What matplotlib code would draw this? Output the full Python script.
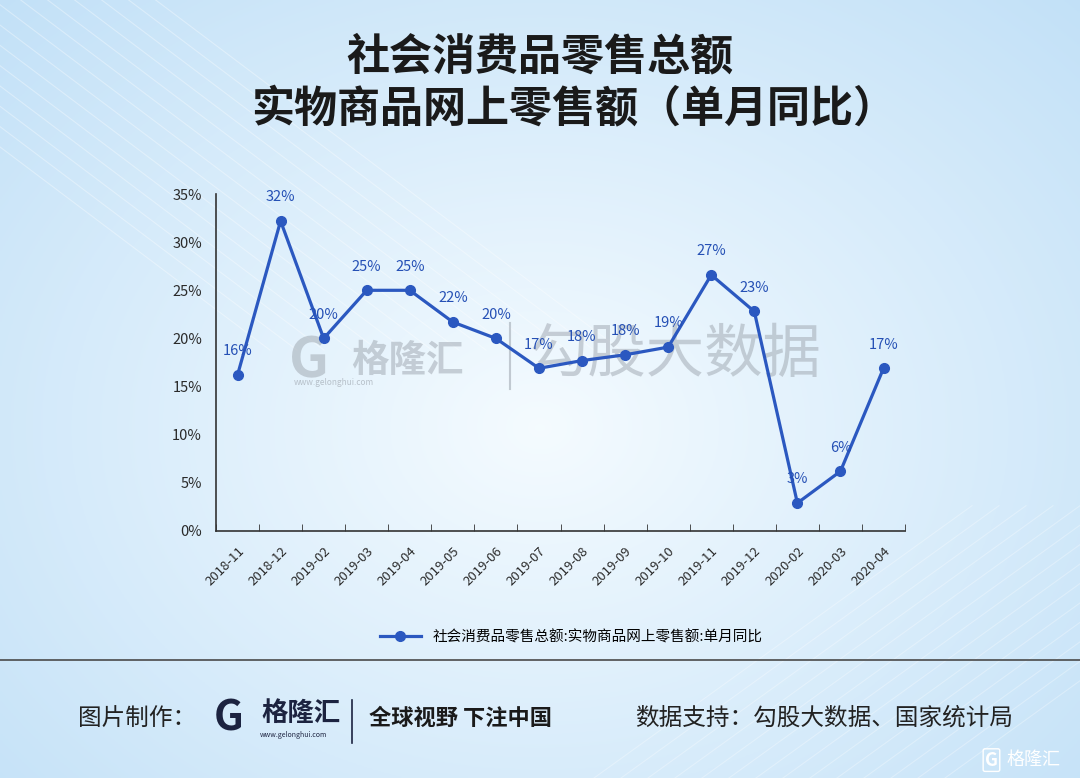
import numpy as np
import matplotlib
matplotlib.use("Agg")
import matplotlib.pyplot as plt
from matplotlib.lines import Line2D

plt.rcParams['font.family'] = ['Noto Sans CJK SC', 'DejaVu Sans']

# data
months = ["2018-11", "2018-12", "2019-02", "2019-03", "2019-04", "2019-05",
          "2019-06", "2019-07", "2019-08", "2019-09", "2019-10", "2019-11",
          "2019-12", "2020-02", "2020-03", "2020-04"]
values = [16.2, 32.2, 20.0, 25.0, 25.0, 21.7, 20.0, 16.9, 17.7, 18.3,
          19.1, 26.6, 22.8, 2.9, 6.2, 16.9]
labels = ["16%", "32%", "20%", "25%", "25%", "22%", "20%", "17%", "18%",
          "18%", "19%", "27%", "23%", "3%", "6%", "17%"]
series_name = "社会消费品零售总额:实物商品网上零售额:单月同比"

blue = "#2b58c0"
label_blue = "#2550b5"

fig = plt.figure(figsize=(10.8, 7.78), dpi=100)

# background gradient
bg = fig.add_axes([0, 0, 1, 1], zorder=-10)
yy, xx = np.mgrid[0:1:300j, 0:1:400j]
r = np.sqrt(((xx - 0.5) / 0.72) ** 2 + ((yy - 0.45) / 0.78) ** 2)
c0 = np.array([0.96, 0.985, 1.0])
c1 = np.array([0.76, 0.88, 0.97])
t = np.clip(r, 0, 1)[..., None]
img = c0 * (1 - t) + c1 * t
bg.imshow(img, extent=[0, 1, 0, 1], aspect="auto", origin="lower")
# faint diagonal streaks
for k in range(14):
    x0 = -0.2 + k * 0.025
    bg.plot([x0, x0 + 0.45], [1.02, 0.55], color="white", lw=0.8, alpha=0.35)
    bg.plot([x0 + 0.7, x0 + 1.1], [-0.05, 0.35], color="white", lw=0.8, alpha=0.3)

# watermark (drawn on the background axes so it sits under the line)
wm = "#a3abb4"
bg.text(0.268, 0.535, "G", fontsize=40, fontweight="bold", color=wm,
        alpha=0.55, ha="left", va="center")
bg.text(0.325, 0.537, "格隆汇", fontsize=27, fontweight="bold", color=wm,
        alpha=0.55, ha="left", va="center")
bg.text(0.272, 0.508, "www.gelonghui.com", fontsize=6, color=wm,
        alpha=0.7, ha="left", va="center")
bg.plot([0.472, 0.472], [0.5, 0.585], color=wm, alpha=0.6, lw=1.5)
bg.text(0.49, 0.543, "勾股大数据", fontsize=42, color=wm, alpha=0.55,
        ha="left", va="center")
bg.set_xlim(0, 1)
bg.set_ylim(0, 1)
bg.axis("off")

# titles
fig.text(0.5, 0.927, "社会消费品零售总额", ha="center", va="center",
         fontsize=31, fontweight="bold", color="#1a1a1a")
fig.text(0.531, 0.859, "实物商品网上零售额（单月同比）", ha="center", va="center",
         fontsize=31, fontweight="bold", color="#1a1a1a")

# main chart
ax = fig.add_axes([0.2, 0.3175, 0.638, 0.4331])
ax.set_facecolor("none")
x = np.arange(len(months))
ax.plot(x, values, color=blue, lw=2.3, marker="o", markersize=7,
        markerfacecolor=blue, markeredgecolor=blue, label=series_name)
for xi, v, lab in zip(x, values, labels):
    ax.annotate(lab, (xi, v), xytext=(0, 17), textcoords="offset points",
                ha="center", va="center", fontsize=10.5, fontweight="medium",
                color=label_blue)

ax.set_xlim(-0.5, len(months) - 0.5)
ax.set_ylim(0, 35)
ax.set_yticks(np.arange(0, 36, 5))
ax.set_yticklabels([f"{v}%" for v in range(0, 36, 5)], fontweight="medium")
ax.set_xticks(x)
ax.set_xticklabels(months, rotation=45, ha="right", rotation_mode="anchor",
                   fontweight="medium")
ax.set_xticks(np.arange(-0.5, len(months)), minor=True)
ax.tick_params(axis="x", which="major", length=0, pad=10, labelsize=9.5,
               labelcolor="#2a2a2a")
ax.tick_params(axis="x", which="minor", length=5, direction="in",
               color="#333333")
ax.tick_params(axis="y", length=0, pad=10, labelsize=10.5, labelcolor="#2a2a2a")
for s in ["top", "right"]:
    ax.spines[s].set_visible(False)
for s in ["left", "bottom"]:
    ax.spines[s].set_color("#333333")
    ax.spines[s].set_linewidth(1.2)

ax.legend(loc="center", bbox_to_anchor=(0.529, 0.181),
          bbox_transform=fig.transFigure, frameon=False, fontsize=10.5,
          handlelength=2.8)

# separator
fig.add_artist(Line2D([0, 1], [0.152, 0.152], color="#4a4a4a", lw=1.2))

# footer
fig.text(0.072, 0.077, "图片制作：", fontsize=17, color="#222222",
         ha="left", va="center")
fig.text(0.198, 0.077, "G", fontsize=30, fontweight="bold", color="#1c2340",
         ha="left", va="center")
fig.text(0.242, 0.083, "格隆汇", fontsize=19, fontweight="bold", color="#1c2340",
         ha="left", va="center")
fig.text(0.241, 0.055, "www.gelonghui.com", fontsize=5, color="#1c2340",
         ha="left", va="center")
fig.add_artist(Line2D([0.326, 0.326], [0.045, 0.1], color="#1c2340", lw=1.2))
fig.text(0.342, 0.077, "全球视野 下注中国", fontsize=16, fontweight="bold",
         color="#1a1a1a", ha="left", va="center")
fig.text(0.588, 0.077, "数据支持：勾股大数据、国家统计局", fontsize=17,
         color="#222222", ha="left", va="center")

# corner logo
fig.text(0.912, 0.023, "G", fontsize=13, fontweight="bold", color="white",
         ha="left", va="center",
         bbox=dict(boxstyle="round,pad=0.1", fc="none", ec="white", lw=1))
fig.text(0.932, 0.023, "格隆汇", fontsize=13, color="white",
         ha="left", va="center")

fig.savefig("out.png", dpi=100)
